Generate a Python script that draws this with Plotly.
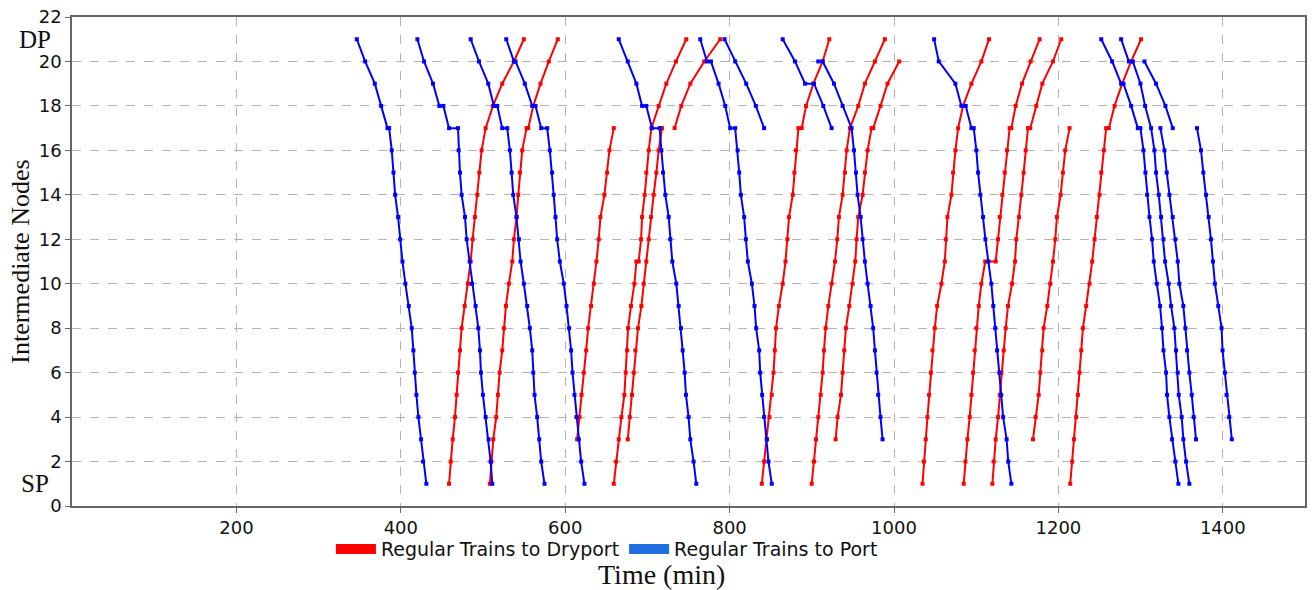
import plotly.graph_objects as go

# ---------------- data: times (min) and node indices ----------------
# Regular trains to Port (blue), travelling DP(21) -> SP(1)
B1_t = [346.5, 356.6, 368.4, 376.1, 383.8, 385.8, 389.0, 391.1, 393.1, 396.7, 399.2, 402.0, 405.6, 409.7, 413.3, 415.3, 417.0, 419.0, 421.4, 424.7, 427.1, 431.1]
B1_n = [21, 20, 19, 18, 17, 17, 16, 15, 14, 13, 12, 11, 10, 9, 8, 7, 6, 5, 4, 3, 2, 1]
B2_t = [420.2, 428.3, 439.2, 446.9, 451.8, 458.7, 469.6, 470.4, 472.0, 474.0, 478.1, 480.1, 483.8, 486.6, 491.0, 494.3, 496.3, 497.5, 499.9, 503.2, 506.8, 509.3, 511.3]
B2_n = [21, 20, 19, 18, 18, 17, 17, 16, 15, 14, 13, 12, 11, 10, 9, 8, 7, 6, 5, 4, 3, 2, 1]
B3_t = [485.0, 495.1, 506.4, 513.3, 517.4, 523.4, 529.5, 532.7, 534.8, 536.8, 540.8, 543.7, 545.7, 549.7, 553.8, 557.0, 559.9, 561.1, 562.7, 565.9, 568.4, 570.8, 574.8]
B3_n = [21, 20, 19, 18, 18, 17, 17, 16, 15, 14, 13, 12, 11, 10, 9, 8, 7, 6, 5, 4, 3, 2, 1]
B4_t = [528.3, 537.6, 539.6, 550.9, 559.9, 563.9, 570.8, 578.1, 581.3, 584.1, 586.0, 588.2, 590.2, 593.5, 598.3, 601.6, 604.8, 607.2, 608.9, 611.3, 613.7, 616.6, 619.4, 623.4]
B4_n = [21, 20, 20, 19, 18, 18, 17, 17, 16, 15, 14, 13, 12, 11, 10, 9, 8, 7, 6, 5, 4, 3, 2, 1]
B5_t = [665.1, 676.1, 686.6, 693.5, 698.7, 705.6, 714.9, 717.0, 719.0, 721.8, 725.9, 727.9, 730.3, 735.2, 738.0, 740.8, 742.9, 745.3, 746.9, 750.1, 752.2, 756.2, 759.5]
B5_n = [21, 20, 19, 18, 18, 17, 17, 16, 15, 14, 13, 12, 11, 10, 9, 8, 7, 6, 5, 4, 3, 2, 1]
B6_t = [764.3, 772.4, 777.3, 786.6, 794.7, 800.7, 806.8, 809.7, 811.7, 813.7, 817.7, 819.8, 822.2, 827.1, 830.3, 832.3, 836.0, 837.2, 839.6, 842.0, 845.3, 847.3, 851.3]
B6_n = [21, 20, 20, 19, 18, 17, 17, 16, 15, 14, 13, 12, 11, 10, 9, 8, 7, 6, 5, 4, 3, 2, 1]
B7_t = [793.9, 806.8, 820.2, 831.9, 842.0]
B7_n = [21, 20, 19, 18, 17]
B8_t = [864.6, 879.6, 891.8, 902.7, 914.0, 924.1]
B8_n = [21, 20, 19, 19, 18, 17]
B9_t = [907.9, 913.2, 927.0, 937.5, 948.4, 951.3, 953.7, 955.7, 959.4, 961.8, 964.6, 967.9, 971.5, 974.7, 976.8, 978.8, 980.8, 983.6, 986.1]
B9_n = [20, 20, 19, 18, 17, 16, 15, 14, 13, 12, 11, 10, 9, 8, 7, 6, 5, 4, 3]
B10_t = [1048.8, 1054.5, 1074.7, 1082.0, 1087.3, 1094.2, 1097.0, 1100.2, 1102.3, 1105.1, 1108.3, 1111.2, 1114.8, 1118.4, 1120.8, 1123.2, 1125.4, 1128.2, 1130.4, 1132.8, 1137.0, 1139.0, 1142.8]
B10_n = [21, 20, 19, 18, 18, 17, 17, 16, 15, 14, 13, 12, 11, 10, 9, 8, 7, 6, 5, 4, 3, 2, 1]
B11_t = [1252.1, 1265.4, 1276.3, 1279.2, 1288.5, 1296.6, 1299.8, 1303.5, 1305.9, 1307.9, 1310.8, 1314.0, 1316.0, 1319.7, 1323.7, 1326.1, 1327.8, 1331.0, 1332.2, 1335.0, 1338.3, 1342.3, 1346.0]
B11_n = [21, 20, 19, 19, 18, 17, 17, 16, 15, 14, 13, 12, 11, 10, 9, 8, 7, 6, 5, 4, 3, 2, 1]
B12_t = [1276.3, 1285.7, 1290.5, 1299.8, 1305.5, 1312.8, 1316.8, 1318.8, 1322.1, 1324.9, 1327.8, 1329.8, 1334.2, 1337.1, 1341.1, 1343.1, 1345.2, 1346.4, 1350.0, 1352.0, 1355.3, 1359.3]
B12_n = [21, 20, 20, 19, 18, 17, 16, 15, 14, 13, 12, 11, 10, 9, 8, 7, 6, 5, 4, 3, 2, 1]
B13_t = [1304.7, 1318.8, 1330.2, 1339.1]
B13_n = [20, 19, 18, 17]
B14_t = [1324.1, 1329.0, 1331.8, 1335.0, 1339.1, 1342.3, 1345.2, 1347.2, 1352.0, 1354.5, 1356.5, 1359.3, 1362.2, 1364.6, 1367.4]
B14_n = [17, 16, 15, 14, 13, 12, 11, 10, 9, 8, 7, 6, 5, 4, 3]
B15_t = [1368.6, 1373.5, 1376.3, 1379.6, 1382.8, 1385.6, 1388.0, 1390.4, 1394.5, 1398.5, 1399.7, 1402.5, 1404.6, 1407.8, 1411.0]
B15_n = [17, 16, 15, 14, 13, 12, 11, 10, 9, 8, 7, 6, 5, 4, 3]

# Regular trains to Dryport (red), travelling SP(1) -> DP(21)
R1_t = [458.7, 460.7, 463.1, 465.9, 468.0, 469.6, 472.0, 474.0, 477.7, 481.7, 485.0, 487.4, 490.2, 493.1, 495.5, 498.3, 503.2, 512.1, 523.4, 537.6, 549.7]
R1_n = [1, 2, 3, 4, 5, 6, 7, 8, 9, 10, 11, 12, 13, 14, 15, 16, 17, 18, 19, 20, 21]
R2_t = [508.4, 510.1, 512.5, 516.1, 518.2, 520.2, 523.4, 525.4, 527.9, 531.5, 535.6, 537.6, 540.8, 542.9, 544.9, 547.7, 553.0, 555.0, 561.1, 570.0, 580.1, 591.0]
R2_n = [1, 2, 3, 4, 5, 6, 7, 8, 9, 10, 11, 12, 13, 14, 15, 16, 17, 17, 18, 19, 20, 21]
R3_t = [614.5, 617.4, 619.8, 622.6, 625.5, 627.9, 631.5, 634.8, 638.0, 640.8, 642.9, 647.7, 651.0, 653.8, 659.1]
R3_n = [3, 4, 5, 6, 7, 8, 9, 10, 11, 12, 13, 14, 15, 16, 17]
R4_t = [659.1, 661.9, 665.1, 668.4, 672.0, 673.6, 675.3, 676.5, 680.1, 684.2, 686.6, 689.4, 692.3, 693.5, 696.7, 698.7, 701.6, 704.8, 713.7, 723.0, 734.8, 747.3]
R4_n = [1, 2, 3, 4, 5, 6, 7, 8, 9, 10, 11, 11, 12, 13, 14, 15, 16, 17, 18, 19, 20, 21]
R5_t = [676.1, 678.5, 681.3, 683.4, 685.4, 688.6, 692.7, 695.5, 698.7, 701.6, 704.4, 707.6, 710.9, 713.7, 717.8]
R5_n = [3, 4, 5, 6, 7, 8, 9, 10, 11, 12, 13, 14, 15, 16, 17]
R6_t = [733.1, 741.2, 752.2, 769.2, 788.6]
R6_n = [17, 18, 19, 20, 21]
R7_t = [839.2, 842.0, 845.3, 848.5, 851.3, 853.4, 855.0, 856.5, 860.0, 864.6, 868.0, 870.3, 872.3, 876.8, 878.8, 880.8, 883.7, 887.7, 893.0, 901.9, 913.2, 921.3]
R7_n = [1, 2, 3, 4, 5, 6, 7, 8, 9, 10, 11, 12, 13, 14, 15, 16, 17, 17, 18, 19, 20, 21]
R8_t = [899.9, 902.7, 905.1, 907.9, 910.8, 913.2, 914.8, 916.9, 920.1, 924.1, 928.2, 931.0, 933.0, 937.5, 940.3, 942.4, 946.4, 956.5, 964.6, 976.8, 988.9]
R8_n = [1, 2, 3, 4, 5, 6, 7, 8, 9, 10, 11, 12, 13, 14, 15, 16, 17, 18, 19, 20, 21]
R9_t = [929.0, 931.4, 935.5, 937.5, 939.5, 941.5, 945.6, 949.6, 952.9, 954.5, 956.5, 961.8, 964.6, 967.9, 972.7, 974.7, 983.6, 992.1, 1006.3]
R9_n = [3, 4, 5, 6, 7, 8, 9, 10, 11, 12, 13, 14, 15, 16, 17, 17, 18, 19, 20]
R10_t = [1034.7, 1036.3, 1038.7, 1040.7, 1042.7, 1044.8, 1046.8, 1049.6, 1052.5, 1057.7, 1061.8, 1063.0, 1065.0, 1069.9, 1071.9, 1074.7, 1078.0, 1084.0, 1094.2, 1106.3, 1115.6]
R10_n = [1, 2, 3, 4, 5, 6, 7, 8, 9, 10, 11, 12, 13, 14, 15, 16, 17, 18, 19, 20, 21]
R11_t = [1084.8, 1086.9, 1089.3, 1092.1, 1094.2, 1096.2, 1098.2, 1100.2, 1103.1, 1106.3, 1111.0, 1123.7, 1126.6, 1128.6, 1131.8, 1134.7, 1137.5, 1140.7, 1142.8, 1148.0, 1155.7, 1166.2, 1177.2]
R11_n = [1, 2, 3, 4, 5, 6, 7, 8, 9, 10, 11, 11, 12, 13, 14, 15, 16, 17, 17, 18, 19, 20, 21]
R12_t = [1119.7, 1121.3, 1123.7, 1126.6, 1128.6, 1130.6, 1133.5, 1135.9, 1138.7, 1143.6, 1147.2, 1148.8, 1152.1, 1154.9, 1157.7, 1160.2, 1163.0, 1165.8, 1173.1, 1180.4, 1193.4, 1203.5]
R12_n = [1, 2, 3, 4, 5, 6, 7, 8, 9, 10, 11, 12, 13, 14, 15, 16, 17, 17, 18, 19, 20, 21]
R13_t = [1169.1, 1172.3, 1176.0, 1178.0, 1180.4, 1182.0, 1186.5, 1190.1, 1193.4, 1196.2, 1198.2, 1202.7, 1205.5, 1208.3, 1213.6]
R13_n = [3, 4, 5, 6, 7, 8, 9, 10, 11, 12, 13, 14, 15, 16, 17]
R14_t = [1214.4, 1216.8, 1218.9, 1221.7, 1223.7, 1225.7, 1227.8, 1229.8, 1233.8, 1237.9, 1241.1, 1244.0, 1246.8, 1250.0, 1252.1, 1255.3, 1258.1, 1261.4, 1268.3, 1277.6, 1288.5, 1300.6]
R14_n = [1, 2, 3, 4, 5, 6, 7, 8, 9, 10, 11, 12, 13, 14, 15, 16, 17, 17, 18, 19, 20, 21]

x_ticks = [200, 400, 600, 800, 1000, 1200, 1400]
y_ticks = [0, 2, 4, 6, 8, 10, 12, 14, 16, 18, 20, 22]

port_trains = [(B1_t, B1_n), (B2_t, B2_n), (B3_t, B3_n), (B4_t, B4_n), (B5_t, B5_n),
               (B6_t, B6_n), (B7_t, B7_n), (B8_t, B8_n), (B9_t, B9_n), (B10_t, B10_n),
               (B11_t, B11_n), (B12_t, B12_n), (B13_t, B13_n), (B14_t, B14_n), (B15_t, B15_n)]
dry_trains = [(R1_t, R1_n), (R2_t, R2_n), (R3_t, R3_n), (R4_t, R4_n), (R5_t, R5_n),
              (R6_t, R6_n), (R7_t, R7_n), (R8_t, R8_n), (R9_t, R9_n), (R10_t, R10_n),
              (R11_t, R11_n), (R12_t, R12_n), (R13_t, R13_n), (R14_t, R14_n)]

RED = "#ff0000"
BLUE = "#0000ff"
LEG_BLUE = "#1f6fe0"

fig = go.Figure()
for t, n in dry_trains:
    fig.add_trace(go.Scatter(x=t, y=n, mode="lines+markers", showlegend=False,
                             line=dict(color=RED, width=2),
                             marker=dict(color=RED, size=4, symbol="square")))
for t, n in port_trains:
    fig.add_trace(go.Scatter(x=t, y=n, mode="lines+markers", showlegend=False,
                             line=dict(color=BLUE, width=2),
                             marker=dict(color=BLUE, size=4, symbol="square")))

# legend entries
fig.add_trace(go.Scatter(x=[None], y=[None], mode="lines", name="Regular Trains to Dryport",
                         line=dict(color=RED, width=10)))
fig.add_trace(go.Scatter(x=[None], y=[None], mode="lines", name="Regular Trains to Port",
                         line=dict(color=LEG_BLUE, width=10)))

axis_common = dict(showline=True, linecolor="#666666", linewidth=1.5, mirror=True,
                   showgrid=True, gridcolor="#b4b4b4", griddash="dash", gridwidth=1,
                   zeroline=False, ticks="outside", ticklen=5, tickcolor="#666666",
                   tickfont=dict(family="DejaVu Sans", size=18, color="#111111"))

fig.update_xaxes(range=[0, 1500], tickvals=x_ticks, **axis_common)
fig.update_yaxes(range=[0, 22], tickvals=y_ticks, **axis_common)

fig.update_layout(
    width=1312, height=590,
    margin=dict(l=72, r=5, t=17, b=84),
    plot_bgcolor="white", paper_bgcolor="white",
    legend=dict(orientation="h", x=0.21, xanchor="left", y=-0.088, yanchor="middle",
                font=dict(family="DejaVu Sans", size=19, color="#111111"),
                itemwidth=40, tracegroupgap=0, bgcolor="rgba(0,0,0,0)"),
    annotations=[
        dict(text="Intermediate Nodes", xref="paper", yref="paper", x=-0.042, y=0.5,
             textangle=-90, showarrow=False, xanchor="center", yanchor="middle",
             font=dict(family="Liberation Serif", size=26, color="#111111")),
        dict(text="Time (min)", xref="paper", yref="paper", x=0.478, y=-0.141,
             showarrow=False, xanchor="center", yanchor="middle",
             font=dict(family="Liberation Serif", size=28, color="#111111")),
        dict(text="DP", xref="paper", yref="y", x=-0.03, y=21, showarrow=False,
             xanchor="center", yanchor="middle",
             font=dict(family="Liberation Serif", size=25, color="#111111")),
        dict(text="SP", xref="paper", yref="y", x=-0.03, y=1, showarrow=False,
             xanchor="center", yanchor="middle",
             font=dict(family="Liberation Serif", size=25, color="#111111")),
    ],
)

fig.write_html("out.html")
